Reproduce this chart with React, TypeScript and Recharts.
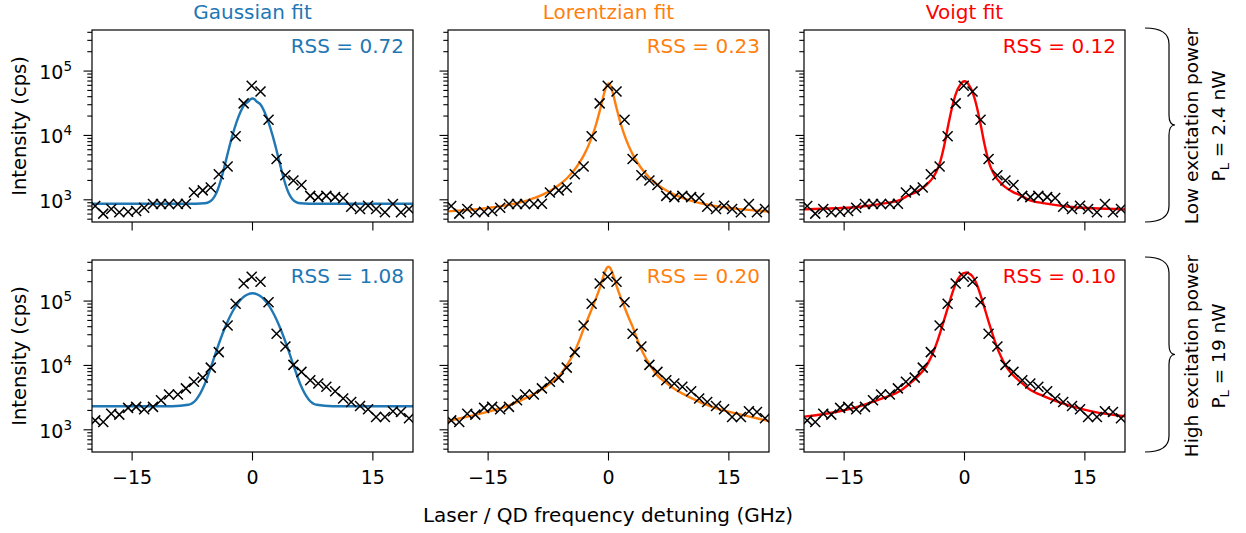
import React from 'react';
import { ComposedChart, Scatter, Line, XAxis, YAxis } from 'recharts';

// measured points (GHz / cps)
const detuning = [
  -19.6, -18.6, -17.6, -16.6, -15.5, -14.5, -13.5, -12.4, -11.4, -10.4, -9.3, -8.3, -7.3,
  -6.2, -5.2, -4.2, -3.1, -2.1, -1.1, -0.1, 1.0, 2.0, 3.0, 4.1, 5.1, 6.1, 7.2, 8.2, 9.2,
  10.3, 11.3, 12.3, 13.4, 14.4, 15.4, 16.5, 17.5, 18.5, 19.5,
];
const lowPowerCounts = [
  800, 610, 720, 640, 650, 670, 750, 860, 860, 860, 860, 870, 1300, 1400, 1550, 2500, 3300,
  9700, 31500, 59000, 48000, 17500, 4300, 2400, 2000, 1700, 1150, 1100, 1150, 1100, 1070,
  780, 720, 810, 720, 640, 860, 640, 720,
];
const highPowerCounts = [
  1400, 1320, 1780, 1720, 2190, 2270, 2090, 2270, 2880, 3540, 3540, 4400, 5570, 6460, 9250,
  16100, 41700, 91000, 187000, 238000, 200000, 96000, 31000, 19700, 10200, 7950, 5900, 5250,
  4650, 3980, 3060, 2710, 2350, 2090, 1580, 1580, 1940, 1890, 1510,
];

// fitted curves
const fitDetuning = [
  -20, -16, -13, -10, -8, -7, -6, -5.5, -5, -4.5, -4, -3.5, -3, -2.5, -2, -1.5, -1, -0.5, -0.25,
  0, 0.25, 0.5, 1, 1.5, 2, 2.5, 3, 3.5, 4, 4.5, 5, 5.5, 6, 7, 8, 10, 13, 16, 20,
];
const gaussianLow = [
  870, 870, 870, 870, 870, 870, 882, 914, 1012, 1278, 1920, 3280, 5840, 10020, 15960, 23130,
  30270, 33720, 36560, 37570, 36560, 33720, 30270, 23130, 15960, 10020, 5840, 3280, 1920, 1278,
  1012, 914, 882, 870, 870, 870, 870, 870, 870,
];
const gaussianHigh = [
  2320, 2320, 2320, 2325, 2448, 2967, 4960, 7240, 11000, 16830, 25300, 36790, 51320, 68290,
  86470, 104000, 118700, 128500, 131150, 132000, 131150, 128500, 118700, 104000, 86470, 68290,
  51320, 36790, 25300, 16830, 11000, 7240, 4960, 2967, 2448, 2325, 2320, 2320, 2320,
];
const lorentzianLow = [
  661, 723, 812, 991, 1236, 1444, 1760, 1985, 2280, 2670, 3210, 3980, 5130, 6940, 10000, 15610,
  26680, 47300, 58800, 64000, 58800, 47300, 26680, 15610, 10000, 6940, 5130, 3980, 3210, 2670,
  2280, 1985, 1760, 1444, 1236, 991, 812, 723, 661,
];
const lorentzianHigh = [
  1370, 1780, 2250, 3250, 4500, 5600, 7200, 8800, 11000, 14000, 19000, 27000, 40000, 56000,
  80000, 115000, 172000, 273000, 321000, 341000, 321000, 273000, 172000, 115000, 80000, 56000,
  40000, 27000, 19000, 14000, 11000, 8800, 7200, 5600, 4500, 3250, 2250, 1780, 1370,
];
const voigtLow = [
  710, 740, 780, 880, 1000, 1170, 1330, 1450, 1600, 1830, 2150, 2750, 4000, 7200, 15000, 29000,
  47000, 62000, 67500, 69500, 67500, 62000, 47000, 29000, 15000, 7200, 4000, 2750, 2150, 1830,
  1600, 1450, 1330, 1170, 1000, 880, 780, 740, 710,
];
const voigtHigh = [
  1600, 1890, 2340, 3150, 4030, 5020, 6410, 7450, 8790, 11170, 14900, 21600, 33300, 52800,
  85100, 135500, 199500, 249500, 266000, 273000, 278500, 270500, 242000, 186000, 124000, 77600,
  48000, 30500, 19800, 14100, 10550, 8500, 7200, 5530, 4330, 3280, 2400, 1920, 1620,
];

const columnTitles = ['Gaussian fit', 'Lorentzian fit', 'Voigt fit'];
const fitColors = ['#1f77b4', '#ff7f0e', '#ff0000'];
const rssLow = ['0.72', '0.23', '0.12'];
const rssHigh = ['1.08', '0.20', '0.10'];
const xTicks = [-15, 0, 15];
const xTickLabels = ['\u221215', '0', '15'];
const yMajor = [1000, 10000, 100000];
const yTicks = [
  500, 600, 700, 800, 900, 1000, 2000, 3000, 4000, 5000, 6000, 7000, 8000, 9000, 10000, 20000,
  30000, 40000, 50000, 60000, 70000, 80000, 90000, 100000, 200000, 300000, 400000,
];
const yDomain = [452, 434500];

const plotLefts = [92, 448, 804];
const plotTops = [30, 260];
const plotW = 321;
const plotH = 192;
const axisW = 60;
const axisH = 35;
const font = 'DejaVu Sans';

const zip = (xs: number[], ys: number[]) => xs.map((x, i) => ({ x, y: ys[i] }));

const renderCross = (p: any) => {
  const { cx, cy } = p;
  const s = 5;
  return (
    <path
      d={`M${cx - s},${cy - s}L${cx + s},${cy + s}M${cx - s},${cy + s}L${cx + s},${cy - s}`}
      stroke="#000"
      strokeWidth={1.5}
      fill="none"
    />
  );
};

function Panel({ row, col }: { row: number; col: number }) {
  const counts = row === 0 ? lowPowerCounts : highPowerCounts;
  const fits = row === 0 ? [gaussianLow, lorentzianLow, voigtLow] : [gaussianHigh, lorentzianHigh, voigtHigh];
  const points = zip(detuning, counts);
  const curve = zip(fitDetuning, fits[col]);

  const xTick = (p: any) => {
    const { x, y, payload } = p;
    const i = xTicks.indexOf(payload.value);
    return (
      <g>
        <line x1={x} x2={x} y1={y} y2={y + 8.5} stroke="#000" strokeWidth={1.1} />
        {row === 1 && (
          <text x={x} y={y + 32} textAnchor="middle" fontSize={19} fontFamily={font} fill="#000">
            {xTickLabels[i]}
          </text>
        )}
      </g>
    );
  };

  const yTick = (p: any) => {
    const { x, y, payload } = p;
    const v = payload.value;
    const major = yMajor.includes(v);
    const len = major ? 8.5 : 4.7;
    return (
      <g>
        <line x1={x - len} x2={x} y1={y} y2={y} stroke="#000" strokeWidth={1.1} />
        {col === 0 && major && (
          <text x={x - 20} y={y + 8} textAnchor="end" fontSize={19} fontFamily={font} fill="#000">
            10
            <tspan dy={-8} fontSize={13.5}>
              {Math.round(Math.log10(v))}
            </tspan>
          </text>
        )}
      </g>
    );
  };

  return (
    <div style={{ position: 'absolute', left: plotLefts[col] - axisW, top: plotTops[row] }}>
      <ComposedChart
        width={axisW + plotW}
        height={plotH + axisH}
        margin={{ top: 0, right: 0, bottom: 0, left: 0 }}
      >
        <XAxis
          type="number"
          dataKey="x"
          domain={[-20, 20]}
          ticks={xTicks}
          allowDataOverflow
          axisLine={false}
          tickLine={false}
          tickSize={0}
          tickMargin={0}
          interval={0}
          height={axisH}
          tick={xTick}
        />
        <YAxis
          type="number"
          scale="log"
          domain={yDomain}
          ticks={yTicks}
          allowDataOverflow
          axisLine={false}
          tickLine={false}
          tickSize={0}
          tickMargin={0}
          interval={0}
          width={axisW}
          tick={yTick}
        />
        <Scatter data={points} dataKey="y" shape={renderCross} isAnimationActive={false} />
        <Line
          data={curve}
          dataKey="y"
          type="monotone"
          stroke={fitColors[col]}
          strokeWidth={2.4}
          dot={false}
          activeDot={false}
          isAnimationActive={false}
        />
      </ComposedChart>
    </div>
  );
}

const bracePath = (y0: number, y1: number) => {
  const xl = 1145;
  const xv = 1169;
  const tip = 1175;
  const ym = (y0 + y1) / 2;
  return `M${xl},${y0} Q${xv},${y0} ${xv},${y0 + 16} L${xv},${ym - 10} Q${xv},${ym} ${tip},${ym} Q${xv},${ym} ${xv},${ym + 10} L${xv},${y1 - 16} Q${xv},${y1} ${xl},${y1}`;
};

export default function App() {
  const rows = [0, 1];
  const cols = [0, 1, 2];
  return (
    <div
      style={{
        position: 'absolute',
        left: 0,
        top: 0,
        width: 1246,
        height: 533,
        background: '#fff',
        fontFamily: font,
      }}
    >
      {rows.map((r) => cols.map((c) => <Panel key={`${r}-${c}`} row={r} col={c} />))}
      <svg
        width={1246}
        height={533}
        style={{ position: 'absolute', left: 0, top: 0, pointerEvents: 'none' }}
        fontFamily={font}
      >
        {rows.map((r) =>
          cols.map((c) => (
            <g key={`f${r}${c}`}>
              <rect
                x={plotLefts[c]}
                y={plotTops[r]}
                width={plotW}
                height={plotH}
                fill="none"
                stroke="#000"
                strokeWidth={1.2}
              />
              <text
                x={plotLefts[c] + plotW - 9}
                y={plotTops[r] + 23}
                textAnchor="end"
                fontSize={20}
                fill={fitColors[c]}
              >
                RSS = {r === 0 ? rssLow[c] : rssHigh[c]}
              </text>
            </g>
          ))
        )}
        {cols.map((c) => (
          <text
            key={`t${c}`}
            x={plotLefts[c] + plotW / 2}
            y={19}
            textAnchor="middle"
            fontSize={20}
            fill={fitColors[c]}
          >
            {columnTitles[c]}
          </text>
        ))}
        {rows.map((r) => {
          const cy = plotTops[r] + plotH / 2;
          return (
            <text
              key={`yl${r}`}
              x={25.5}
              y={cy}
              textAnchor="middle"
              fontSize={19.5}
              fill="#000"
              transform={`rotate(-90 25.5 ${cy})`}
            >
              Intensity (cps)
            </text>
          );
        })}
        <text x={608} y={522} textAnchor="middle" fontSize={20} fill="#000">
          Laser / QD frequency detuning (GHz)
        </text>
        <path d={bracePath(28, 222)} fill="none" stroke="#000" strokeWidth={1.2} />
        <path d={bracePath(257, 452)} fill="none" stroke="#000" strokeWidth={1.2} />
        <text x={1198} y={126} textAnchor="middle" fontSize={18.5} fill="#000" transform="rotate(-90 1198 126)">
          Low excitation power
        </text>
        <text x={1225} y={126} textAnchor="middle" fontSize={18.5} fill="#000" transform="rotate(-90 1225 126)">
          P<tspan dy={4} fontSize={13}>L</tspan>
          <tspan dy={-4}> = 2.4 nW</tspan>
        </text>
        <text x={1198} y={356} textAnchor="middle" fontSize={18.5} fill="#000" transform="rotate(-90 1198 356)">
          High excitation power
        </text>
        <text x={1225} y={356} textAnchor="middle" fontSize={18.5} fill="#000" transform="rotate(-90 1225 356)">
          P<tspan dy={4} fontSize={13}>L</tspan>
          <tspan dy={-4}> = 19 nW</tspan>
        </text>
      </svg>
    </div>
  );
}
